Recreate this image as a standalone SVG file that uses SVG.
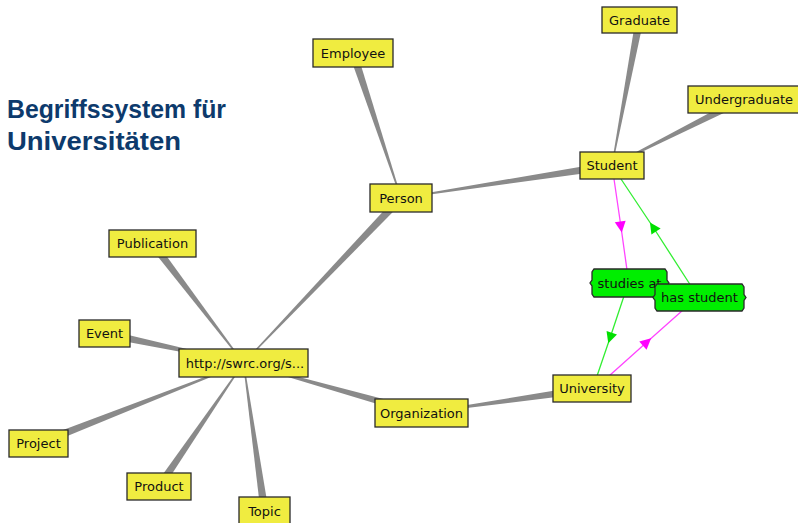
<svg xmlns="http://www.w3.org/2000/svg" width="798" height="523" viewBox="0 0 798 523">
<style>
.title{font-family:"Liberation Sans",Arial,sans-serif;font-weight:bold;font-size:26.5px;fill:#0d3a6c}
.box{fill:#f0ec40;stroke:#2a2a2a;stroke-width:1.3}
.rel{fill:#00ee00;stroke:#2a2a2a;stroke-width:1.3}
.lbl{font-family:"DejaVu Sans",Verdana,sans-serif;font-size:13px;fill:#111;text-anchor:middle}
.wedge{fill:#8a8a8a;stroke:none}
.mag{fill:none;stroke:#ff44ff;stroke-width:1.3;marker-mid:url(#amag)}
.grn{fill:none;stroke:#33ee33;stroke-width:1.3;marker-mid:url(#agrn)}
</style>
<defs>
<marker id="amag" markerUnits="userSpaceOnUse" markerWidth="14" markerHeight="14" refX="7" refY="7" orient="auto"><path d="M1.5,1.5 L12.5,7 L1.5,12.5 Z" fill="#ff00ff"/></marker>
<marker id="agrn" markerUnits="userSpaceOnUse" markerWidth="14" markerHeight="14" refX="7" refY="7" orient="auto"><path d="M1.5,1.5 L12.5,7 L1.5,12.5 Z" fill="#00e000"/></marker>
</defs>
<rect width="798" height="523" fill="#ffffff"/>
<g id="title">
<text class="title" x="7" y="118" textLength="219" lengthAdjust="spacingAndGlyphs">Begriffssystem für</text>
<text class="title" x="7" y="150" textLength="174" lengthAdjust="spacingAndGlyphs">Universitäten</text>
</g>
<g id="connectors">
<polygon class="wedge" points="243.9,363.3 403.9,200.8 398.1,195.2 243.1,362.7"/>
<polygon class="wedge" points="401.5,197.8 356.8,51.7 349.2,54.3 400.5,198.2"/>
<polygon class="wedge" points="401.1,198.5 612.6,169.5 611.4,161.5 400.9,197.5"/>
<polygon class="wedge" points="612.5,165.6 643.4,20.7 635.6,19.3 611.5,165.4"/>
<polygon class="wedge" points="612.2,165.9 744.8,103.1 741.2,95.9 611.8,165.1"/>
<polygon class="wedge" points="243.9,362.7 155.7,241.1 149.3,245.9 243.1,363.3"/>
<polygon class="wedge" points="243.6,362.5 105.3,329.6 103.7,337.4 243.4,363.5"/>
<polygon class="wedge" points="243.3,362.5 37.0,439.8 40.0,447.2 243.7,363.5"/>
<polygon class="wedge" points="243.1,362.7 155.7,484.2 162.3,488.8 243.9,363.3"/>
<polygon class="wedge" points="243.0,363.1 260.5,511.1 268.5,509.9 244.0,362.9"/>
<polygon class="wedge" points="243.4,363.5 420.4,416.9 422.6,409.2 243.6,362.5"/>
<polygon class="wedge" points="421.6,413.5 592.6,392.5 591.4,384.5 421.4,412.5"/>
<polyline class="mag" points="614,179 621,227 627,270"/>
<polyline class="grn" points="691,286 653,227 621,179"/>
<polyline class="grn" points="624,296 610,338 597,376"/>
<polyline class="mag" points="609,376 647,342 683,310"/>
</g>
<g id="n-center"><rect class="box" x="179" y="349" width="129" height="28"/><text class="lbl" x="245" y="368">http://swrc.org/s...</text></g>
<g id="n-person"><rect class="box" x="370" y="184" width="62" height="28"/><text class="lbl" x="401" y="203">Person</text></g>
<g id="n-employee"><rect class="box" x="313" y="39" width="80" height="28"/><text class="lbl" x="353" y="58">Employee</text></g>
<g id="n-student"><rect class="box" x="580" y="152" width="64" height="27"/><text class="lbl" x="612" y="170">Student</text></g>
<g id="n-graduate"><rect class="box" x="602" y="7" width="75" height="26"/><text class="lbl" x="639.5" y="25">Graduate</text></g>
<g id="n-undergraduate"><rect class="box" x="688" y="86" width="111" height="27"/><text class="lbl" x="744" y="104">Undergraduate</text></g>
<g id="n-publication"><rect class="box" x="109" y="230" width="87" height="27"/><text class="lbl" x="152.5" y="248">Publication</text></g>
<g id="n-event"><rect class="box" x="79" y="320" width="51" height="27"/><text class="lbl" x="104.5" y="338">Event</text></g>
<g id="n-project"><rect class="box" x="9" y="430" width="59" height="27"/><text class="lbl" x="38.5" y="448">Project</text></g>
<g id="n-product"><rect class="box" x="127" y="473" width="64" height="27"/><text class="lbl" x="159" y="491">Product</text></g>
<g id="n-topic"><rect class="box" x="239" y="497" width="51" height="28"/><text class="lbl" x="264.5" y="516">Topic</text></g>
<g id="n-organization"><rect class="box" x="375" y="399" width="93" height="28"/><text class="lbl" x="421.5" y="418">Organization</text></g>
<g id="n-university"><rect class="box" x="553" y="375" width="78" height="27"/><text class="lbl" x="592" y="393">University</text></g>
<g id="n-studies-at"><path class="rel" d="M594,269 H665 L667,272 V280 L669,283 L667,286 V294 L665,297 H594 L592,294 V286 L590,283 L592,280 V272 Z"/><text class="lbl" x="629.5" y="288">studies at</text></g>
<g id="n-has-student"><path class="rel" d="M657,284 H742 L744,287 V294.5 L746,297.5 L744,300.5 V308 L742,311 H657 L655,308 V300.5 L653,297.5 L655,294.5 V287 Z"/><text class="lbl" x="699.5" y="302">has student</text></g>
</svg>
